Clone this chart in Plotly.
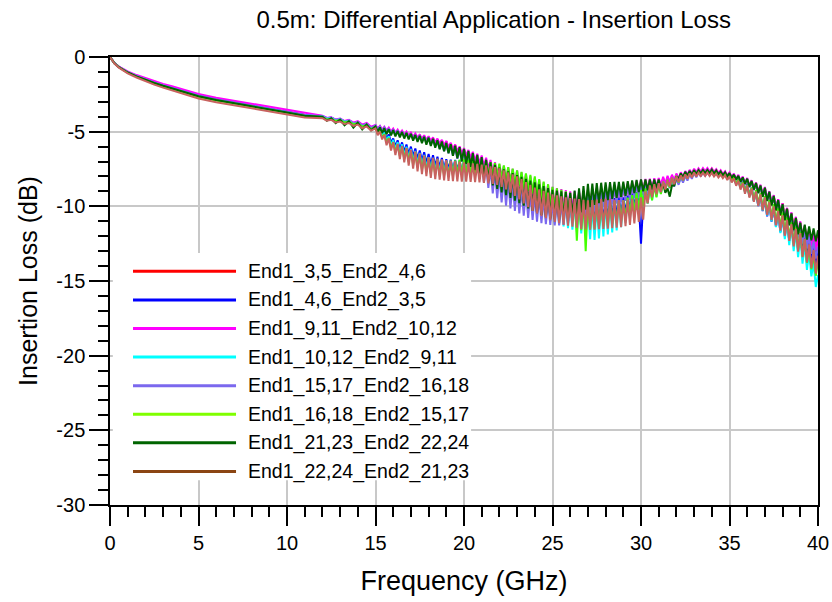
import plotly.graph_objects as go

# ---------------- data ----------------
FREQ_SMOOTH = [0, 0.1, 0.25, 0.5, 0.75, 1, 1.5, 2, 2.5, 3, 3.5, 4, 5, 6, 7, 8, 9, 10, 11]
FREQ_EARLY_PEAK = [12 + 0.5 * i for i in range(6)]        # 12.0 ... 14.5 GHz
FREQ_EARLY_TROUGH = [12.25 + 0.5 * i for i in range(6)]   # 12.25 ... 14.75 GHz
FREQ_PEAK = [15 + 0.25 * i for i in range(101)]           # 15.0 ... 40.0 GHz (ripple maxima)
FREQ_TROUGH = [15.125 + 0.25 * i for i in range(100)]     # 15.125 ... 39.875 GHz (ripple minima)

names = ["End1_3,5_End2_4,6", "End1_4,6_End2_3,5", "End1_9,11_End2_10,12",
         "End1_10,12_End2_9,11", "End1_15,17_End2_16,18", "End1_16,18_End2_15,17",
         "End1_21,23_End2_22,24", "End1_22,24_End2_21,23"]
line_colors = ["#FF0000", "#0000FF", "#FF00FF", "#00FFFF", "#7B68EE", "#44FF00", "#006400", "#C8625F"]
legend_colors = ["#FF0000", "#0000FF", "#FF00FF", "#00FFFF", "#7B68EE", "#7FFF00", "#006400", "#8B4513"]

x_tick_vals = [0, 5, 10, 15, 20, 25, 30, 35, 40]
x_tick_text = ["0", "5", "10", "15", "20", "25", "30", "35", "40"]
y_tick_vals = [0, -5, -10, -15, -20, -25, -30]
y_tick_text = ["0", "-5", "-10", "-15", "-20", "-25", "-30"]

# ---- smooth part 0..11 GHz ----
red_smooth = [0, -.2, -.41, -.66, -.86, -1.01, -1.26, -1.48, -1.69, -1.88, -2.05, -2.22, -2.58, -2.83, -3.03, -3.23, -3.45, -3.67, -3.87]
blue_smooth = [0, -.2, -.41, -.66, -.86, -1.01, -1.26, -1.49, -1.70, -1.89, -2.06, -2.23, -2.59, -2.84, -3.04, -3.24, -3.46, -3.68, -3.88]
magenta_smooth = [0, -.19, -.40, -.64, -.82, -.97, -1.21, -1.42, -1.62, -1.80, -1.96, -2.12, -2.47, -2.72, -2.92, -3.12, -3.34, -3.56, -3.77]
cyan_smooth = [0, -.2, -.42, -.67, -.87, -1.03, -1.28, -1.51, -1.72, -1.91, -2.08, -2.25, -2.61, -2.86, -3.06, -3.26, -3.48, -3.70, -3.90]
purple_smooth = [0, -.2, -.42, -.67, -.87, -1.02, -1.28, -1.51, -1.72, -1.90, -2.07, -2.24, -2.60, -2.85, -3.05, -3.25, -3.47, -3.69, -3.89]
lime_smooth = [0, -.2, -.42, -.69, -.89, -1.05, -1.31, -1.55, -1.76, -1.96, -2.13, -2.30, -2.66, -2.91, -3.11, -3.31, -3.53, -3.75, -3.95]
green_smooth = [0, -.2, -.42, -.68, -.88, -1.04, -1.30, -1.53, -1.74, -1.93, -2.10, -2.27, -2.63, -2.88, -3.08, -3.28, -3.50, -3.72, -3.93]
brown_smooth = [0, -.21, -.44, -.71, -.92, -1.09, -1.37, -1.62, -1.85, -2.05, -2.23, -2.41, -2.78, -3.03, -3.23, -3.43, -3.65, -3.87, -4.05]

# ---- light ripple 12..14.75 GHz (maxima / minima) ----
red_early_peaks = [-4.00, -4.10, -4.19, -4.28, -4.37, -4.49]
red_early_troughs = [-4.15, -4.26, -4.36, -4.47, -4.59, -4.73]
blue_early_peaks = [-3.95, -4.05, -4.14, -4.24, -4.34, -4.47]
blue_early_troughs = [-4.10, -4.21, -4.31, -4.43, -4.57, -4.72]
magenta_early_peaks = [-3.93, -4.03, -4.12, -4.21, -4.30, -4.42]
magenta_early_troughs = [-4.08, -4.19, -4.29, -4.40, -4.53, -4.67]
cyan_early_peaks = [-3.97, -4.07, -4.16, -4.26, -4.37, -4.50]
cyan_early_troughs = [-4.12, -4.23, -4.33, -4.46, -4.61, -4.79]
purple_early_peaks = [-4.00, -4.10, -4.19, -4.28, -4.37, -4.48]
purple_early_troughs = [-4.15, -4.26, -4.36, -4.47, -4.60, -4.75]
lime_early_peaks = [-4.03, -4.13, -4.22, -4.32, -4.42, -4.55]
lime_early_troughs = [-4.18, -4.29, -4.39, -4.51, -4.67, -4.83]
green_early_peaks = [-4.00, -4.10, -4.20, -4.30, -4.40, -4.52]
green_early_troughs = [-4.27, -4.43, -4.57, -4.73, -4.84, -4.91]
brown_early_peaks = [-4.10, -4.21, -4.32, -4.42, -4.52, -4.65]
brown_early_troughs = [-4.26, -4.38, -4.49, -4.61, -4.77, -4.93]

# ---- dense ripple 15..40 GHz: maxima (every 0.25 GHz) and minima (in between) ----
red_peaks = [-4.60, -4.66, -4.73, -4.80, -4.86, -4.93, -5.00, -5.07,
             -5.13, -5.19, -5.25, -5.30, -5.35, -5.43, -5.51, -5.58,
             -5.65, -5.78, -5.90, -6.05, -6.20, -6.38, -6.55, -6.72,
             -6.90, -7.05, -7.20, -7.35, -7.50, -7.62, -7.75, -7.88,
             -8.00, -8.12, -8.25, -8.38, -8.50, -8.65, -8.80, -8.95,
             -9.10, -9.15, -9.20, -9.25, -9.30, -9.20, -9.10, -9.00,
             -8.90, -8.85, -8.80, -8.75, -8.70, -8.70, -8.70, -8.70,
             -8.70, -8.61, -8.52, -8.43, -8.35, -8.31, -8.27, -8.23,
             -8.20, -8.12, -8.05, -7.97, -7.90, -7.81, -7.72, -7.62,
             -7.53, -7.52, -7.51, -7.50, -7.50, -7.57, -7.64, -7.71,
             -7.78, -7.88, -7.99, -8.10, -8.20, -8.35, -8.50, -8.65,
             -8.80, -9.05, -9.30, -9.55, -9.80, -10.12, -10.45, -10.78,
             -11.10, -11.32, -11.55, -11.78, -12.00]
red_troughs = [-4.84, -4.91, -4.98, -5.06, -5.13, -5.20, -5.27, -5.33,
               -5.40, -5.47, -5.54, -5.62, -5.71, -5.80, -5.89, -6.01,
               -6.15, -6.32, -6.51, -6.71, -6.92, -7.13, -7.36, -7.58,
               -7.79, -8.00, -8.19, -8.39, -8.58, -8.76, -8.93, -9.11,
               -9.28, -9.46, -9.63, -9.80, -9.97, -10.13, -10.28, -10.40,
               -10.50, -10.58, -10.63, -10.64, -10.61, -10.55, -10.45, -10.35,
               -10.25, -10.15, -10.05, -9.97, -9.90, -9.83, -9.77, -9.70,
               -9.63, -9.53, -9.42, -9.31, -9.20, -9.09, -8.98, -8.86,
               -8.74, -8.62, -8.49, -8.36, -8.23, -8.11, -7.98, -7.87,
               -7.78, -7.73, -7.72, -7.73, -7.76, -7.82, -7.90, -8.00,
               -8.11, -8.24, -8.39, -8.55, -8.72, -8.90, -9.10, -9.34,
               -9.61, -9.93, -10.28, -10.62, -10.95, -11.29, -11.62, -11.93,
               -12.22, -12.51, -12.78, -13.05]

blue_peaks = [-4.60, -4.76, -4.92, -5.18, -5.45, -5.58, -5.72, -5.86,
              -6.00, -6.13, -6.26, -6.38, -6.50, -6.58, -6.67, -6.76,
              -6.85, -6.88, -6.90, -6.93, -6.95, -6.96, -6.97, -6.98,
              -7.00, -7.10, -7.20, -7.30, -7.40, -7.55, -7.70, -7.85,
              -8.00, -8.15, -8.30, -8.45, -8.60, -8.75, -8.90, -9.05,
              -9.20, -9.28, -9.35, -9.42, -9.50, -9.55, -9.60, -9.65,
              -9.70, -9.65, -9.60, -9.55, -9.50, -9.47, -9.45, -9.42,
              -9.40, -9.28, -9.15, -9.05, -12.50, -8.80, -8.65, -8.52,
              -8.40, -8.32, -8.25, -8.18, -8.10, -8.00, -7.89, -7.78,
              -7.68, -7.66, -7.64, -7.62, -7.60, -7.67, -7.74, -7.81,
              -7.88, -8.04, -8.20, -8.35, -8.50, -8.75, -9.00, -9.25,
              -9.50, -9.80, -10.10, -10.40, -10.70, -10.98, -11.25, -11.52,
              -11.80, -12.05, -12.30, -12.55, -12.80]
blue_troughs = [-4.96, -5.19, -5.48, -5.74, -5.99, -6.19, -6.36, -6.52,
                -6.67, -6.83, -6.98, -7.12, -7.23, -7.33, -7.42, -7.49,
                -7.54, -7.59, -7.62, -7.64, -7.67, -7.70, -7.75, -7.83,
                -7.94, -8.10, -8.30, -8.50, -8.70, -8.90, -9.10, -9.30,
                -9.50, -9.70, -9.90, -10.09, -10.26, -10.43, -10.58, -10.71,
                -10.82, -10.92, -10.99, -11.05, -11.12, -11.18, -11.23, -11.24,
                -11.21, -11.15, -11.05, -10.96, -10.87, -10.79, -10.71, -10.61,
                -10.49, -10.30, -10.03, -9.85, -9.75, -9.58, -9.35, -9.14,
                -8.97, -8.82, -8.69, -8.56, -8.43, -8.29, -8.14, -8.02,
                -7.93, -7.87, -7.84, -7.84, -7.87, -7.92, -7.99, -8.11,
                -8.28, -8.48, -8.73, -9.00, -9.30, -9.63, -9.98, -10.32,
                -10.67, -11.02, -11.38, -11.72, -12.02, -12.32, -12.59, -12.85,
                -13.12, -13.38, -13.63, -13.85]

magenta_peaks = [-4.55, -4.61, -4.67, -4.73, -4.80, -4.86, -4.93, -5.00,
                 -5.06, -5.12, -5.18, -5.24, -5.30, -5.38, -5.46, -5.54,
                 -5.62, -5.74, -5.86, -5.98, -6.10, -6.22, -6.35, -6.48,
                 -6.60, -6.75, -6.90, -7.05, -7.20, -7.30, -7.40, -7.50,
                 -7.60, -7.72, -7.85, -7.98, -8.10, -8.25, -8.40, -8.55,
                 -8.70, -8.78, -8.85, -8.92, -9.00, -9.00, -9.00, -9.00,
                 -9.00, -8.93, -8.87, -8.81, -8.75, -8.69, -8.63, -8.56,
                 -8.50, -8.42, -8.35, -8.28, -8.20, -8.17, -8.15, -8.12,
                 -8.10, -8.02, -7.95, -7.88, -7.80, -7.72, -7.64, -7.56,
                 -7.48, -7.46, -7.44, -7.44, -7.45, -7.52, -7.59, -7.66,
                 -7.73, -7.81, -7.89, -8.00, -8.10, -8.25, -8.40, -8.55,
                 -8.70, -8.98, -9.25, -9.52, -9.80, -10.10, -10.40, -10.70,
                 -11.00, -11.28, -11.55, -11.82, -12.10]
magenta_troughs = [-4.78, -4.86, -4.92, -5.00, -5.07, -5.13, -5.20, -5.27,
                   -5.34, -5.41, -5.48, -5.56, -5.65, -5.74, -5.83, -5.94,
                   -6.05, -6.17, -6.31, -6.45, -6.60, -6.76, -6.93, -7.12,
                   -7.31, -7.50, -7.69, -7.88, -8.05, -8.22, -8.37, -8.53,
                   -8.69, -8.86, -9.03, -9.20, -9.37, -9.53, -9.68, -9.81,
                   -9.92, -10.02, -10.09, -10.14, -10.18, -10.20, -10.20, -10.18,
                   -10.13, -10.07, -9.98, -9.89, -9.80, -9.71, -9.63, -9.54,
                   -9.43, -9.31, -9.18, -9.07, -8.97, -8.88, -8.81, -8.72,
                   -8.62, -8.51, -8.38, -8.26, -8.14, -8.02, -7.90, -7.80,
                   -7.73, -7.68, -7.66, -7.67, -7.70, -7.76, -7.85, -7.94,
                   -8.04, -8.16, -8.29, -8.45, -8.62, -8.80, -8.99, -9.22,
                   -9.49, -9.78, -10.11, -10.44, -10.77, -11.12, -11.47, -11.81,
                   -12.12, -12.42, -12.69, -12.95]

cyan_peaks = [-4.63, -4.84, -5.05, -5.30, -5.55, -5.70, -5.85, -6.00,
              -6.15, -6.29, -6.43, -6.56, -6.70, -6.76, -6.83, -6.89,
              -6.95, -6.95, -6.95, -6.95, -6.95, -6.96, -6.97, -6.98,
              -7.00, -7.12, -7.25, -7.38, -7.50, -7.65, -7.80, -7.95,
              -8.10, -8.28, -8.45, -8.62, -8.80, -8.92, -9.05, -9.18,
              -9.30, -9.40, -9.50, -9.60, -9.70, -9.78, -9.85, -9.92,
              -10.00, -9.95, -9.90, -9.85, -9.80, -9.75, -9.70, -9.65,
              -9.60, -9.45, -9.30, -9.15, -9.00, -8.85, -8.70, -8.55,
              -8.40, -8.32, -8.23, -8.14, -8.05, -7.96, -7.87, -7.78,
              -7.68, -7.68, -7.67, -7.66, -7.65, -7.70, -7.76, -7.80,
              -7.85, -8.04, -8.23, -8.42, -8.60, -8.80, -9.00, -9.20,
              -9.40, -9.70, -10.00, -10.30, -10.60, -10.95, -11.30, -11.65,
              -12.00, -12.50, -13.10, -13.80, -14.60]
cyan_troughs = [-5.07, -5.32, -5.64, -5.94, -6.21, -6.45, -6.66, -6.85,
                -7.02, -7.19, -7.36, -7.50, -7.61, -7.70, -7.76, -7.81,
                -7.84, -7.85, -7.85, -7.86, -7.87, -7.90, -7.95, -8.02,
                -8.12, -8.26, -8.44, -8.62, -8.81, -9.00, -9.20, -9.40,
                -9.61, -9.84, -10.07, -10.28, -10.47, -10.66, -10.84, -11.00,
                -11.13, -11.25, -11.35, -11.46, -11.57, -11.69, -11.82, -11.98,
                -12.20, -12.25, -12.15, -12.02, -11.88, -11.74, -11.61, -11.40,
                -11.10, -10.82, -10.58, -10.32, -10.08, -9.82, -9.58, -9.35,
                -9.14, -8.96, -8.78, -8.62, -8.48, -8.32, -8.15, -8.03,
                -7.95, -7.90, -7.87, -7.88, -7.91, -7.97, -8.04, -8.16,
                -8.32, -8.54, -8.80, -9.08, -9.36, -9.65, -9.95, -10.28,
                -10.62, -11.00, -11.40, -11.80, -12.20, -12.60, -13.00, -13.41,
                -13.84, -14.26, -14.69, -15.40]

purple_peaks = [-4.58, -4.65, -4.72, -4.78, -4.85, -4.92, -5.00, -5.08,
                -5.15, -5.21, -5.27, -5.33, -5.40, -5.52, -5.63, -5.74,
                -5.85, -5.96, -6.08, -6.19, -6.30, -6.48, -6.65, -6.82,
                -7.00, -7.22, -7.45, -7.68, -7.90, -8.08, -8.25, -8.42,
                -8.60, -8.75, -8.90, -9.05, -9.20, -9.32, -9.45, -9.58,
                -9.70, -9.68, -9.65, -9.62, -9.60, -9.48, -9.35, -9.22,
                -9.10, -9.02, -8.95, -8.88, -8.80, -8.78, -8.75, -8.72,
                -8.70, -8.65, -8.60, -8.55, -8.50, -8.48, -8.45, -8.42,
                -8.40, -8.34, -8.27, -8.21, -8.15, -8.05, -7.95, -7.85,
                -7.75, -7.74, -7.73, -7.72, -7.70, -7.74, -7.77, -7.80,
                -7.83, -7.92, -8.02, -8.11, -8.20, -8.36, -8.53, -8.69,
                -8.85, -9.11, -9.37, -9.63, -9.90, -10.25, -10.60, -10.95,
                -11.30, -11.65, -12.00, -12.35, -12.70]
purple_troughs = [-4.86, -4.94, -5.02, -5.10, -5.19, -5.27, -5.34, -5.41,
                  -5.50, -5.58, -5.67, -5.76, -5.88, -6.00, -6.15, -6.30,
                  -6.45, -6.62, -6.82, -7.02, -7.26, -7.51, -7.79, -8.09,
                  -8.42, -8.76, -9.14, -9.46, -9.74, -9.96, -10.14, -10.30,
                  -10.47, -10.62, -10.78, -10.91, -11.02, -11.12, -11.19, -11.24,
                  -11.27, -11.27, -11.24, -11.17, -11.08, -10.94, -10.76, -10.60,
                  -10.45, -10.32, -10.18, -10.07, -9.98, -9.89, -9.81, -9.73,
                  -9.64, -9.55, -9.45, -9.36, -9.27, -9.19, -9.11, -9.03,
                  -8.95, -8.87, -8.78, -8.68, -8.56, -8.42, -8.28, -8.16,
                  -8.06, -8.00, -7.95, -7.93, -7.94, -7.96, -8.01, -8.07,
                  -8.16, -8.27, -8.41, -8.56, -8.74, -8.92, -9.14, -9.37,
                  -9.64, -9.92, -10.23, -10.56, -10.92, -11.30, -11.70, -12.09,
                  -12.46, -12.82, -13.18, -13.50]

lime_peaks = [-4.68, -4.92, -5.15, -5.42, -5.70, -5.84, -5.97, -6.11,
              -6.25, -6.38, -6.52, -6.66, -6.80, -6.85, -6.90, -6.95,
              -7.00, -6.96, -6.92, -6.88, -6.85, -6.88, -6.90, -6.92,
              -6.95, -7.00, -7.05, -7.10, -7.15, -7.26, -7.37, -7.48,
              -7.60, -7.70, -7.80, -7.90, -8.00, -8.18, -8.35, -8.52,
              -8.70, -8.80, -8.90, -9.00, -9.10, -9.22, -9.35, -9.48,
              -9.60, -9.62, -9.65, -9.68, -9.70, -9.68, -9.65, -9.62,
              -9.60, -9.42, -9.25, -9.08, -8.90, -8.80, -8.70, -8.60,
              -8.50, -8.36, -8.23, -8.09, -7.95, -7.88, -7.82, -7.75,
              -7.68, -7.68, -7.67, -7.66, -7.65, -7.70, -7.76, -7.80,
              -7.85, -8.02, -8.20, -8.38, -8.55, -8.74, -8.92, -9.11,
              -9.30, -9.58, -9.85, -10.12, -10.40, -10.72, -11.05, -11.38,
              -11.70, -12.20, -12.70, -13.20, -13.70]
lime_troughs = [-5.12, -5.39, -5.75, -6.08, -6.37, -6.62, -6.84, -7.03,
                -7.22, -7.39, -7.56, -7.69, -7.80, -7.88, -7.92, -7.95,
                -7.96, -7.94, -7.90, -7.87, -7.86, -7.85, -7.85, -7.86,
                -7.89, -7.92, -7.98, -8.05, -8.14, -8.25, -8.40, -8.54,
                -8.67, -8.82, -8.98, -9.15, -9.33, -9.53, -9.76, -9.98,
                -10.20, -10.40, -10.60, -10.80, -10.95, -12.30, -11.60, -13.00,
                -11.55, -11.49, -11.41, -11.34, -11.27, -11.19, -11.11, -11.00,
                -10.85, -10.66, -10.44, -10.22, -10.00, -9.80, -9.60, -9.40,
                -9.18, -8.98, -8.76, -8.58, -8.40, -8.25, -8.12, -8.02,
                -7.94, -7.90, -7.87, -7.88, -7.91, -7.97, -8.04, -8.16,
                -8.30, -8.50, -8.76, -9.02, -9.31, -9.59, -9.86, -10.16,
                -10.46, -10.78, -11.12, -11.45, -11.80, -12.16, -12.54, -12.94,
                -13.35, -13.78, -14.22, -14.65]

green_peaks = [-4.65, -4.71, -4.77, -4.84, -4.90, -4.96, -5.02, -5.08,
               -5.15, -5.22, -5.28, -5.34, -5.40, -5.48, -5.57, -5.66,
               -5.75, -5.84, -5.94, -6.04, -6.15, -6.29, -6.43, -6.56,
               -6.70, -6.88, -7.05, -7.22, -7.40, -7.52, -7.65, -7.78,
               -7.90, -8.02, -8.15, -8.28, -8.40, -8.52, -8.65, -8.78,
               -8.90, -8.95, -9.00, -9.05, -9.10, -8.95, -8.80, -8.65,
               -8.50, -8.48, -8.45, -8.42, -8.40, -8.38, -8.37, -8.36,
               -8.35, -8.31, -8.27, -8.23, -8.20, -8.20, -8.20, -8.20,
               -8.20, -8.45, -8.80, -8.60, -8.00, -7.80, -7.69, -7.63,
               -7.58, -7.58, -7.57, -7.56, -7.55, -7.61, -7.67, -7.72,
               -7.78, -7.87, -7.96, -8.06, -8.15, -8.30, -8.44, -8.60,
               -8.75, -9.02, -9.30, -9.58, -9.85, -10.16, -10.47, -10.78,
               -11.10, -11.22, -11.35, -11.48, -11.60]
green_troughs = [-5.01, -5.08, -5.17, -5.25, -5.32, -5.39, -5.46, -5.52,
                 -5.60, -5.68, -5.77, -5.87, -5.96, -6.07, -6.18, -6.31,
                 -6.45, -6.61, -6.79, -6.98, -7.16, -7.36, -7.58, -7.80,
                 -8.05, -8.31, -8.59, -8.84, -9.06, -9.26, -9.44, -9.62,
                 -9.78, -9.96, -10.14, -10.30, -10.45, -10.58, -10.72, -10.81,
                 -10.87, -10.90, -10.90, -10.85, -10.75, -10.60, -10.40, -10.22,
                 -10.05, -9.91, -9.79, -9.68, -9.59, -9.50, -9.44, -9.36,
                 -9.30, -9.22, -9.12, -9.05, -8.99, -8.93, -8.87, -8.80,
                 -8.85, -9.10, -9.35, -8.60, -8.15, -8.05, -7.96, -7.89,
                 -7.83, -7.79, -7.77, -7.78, -7.80, -7.86, -7.92, -8.00,
                 -8.10, -8.21, -8.35, -8.50, -8.68, -8.88, -9.10, -9.36,
                 -9.64, -9.94, -10.26, -10.58, -10.92, -11.25, -11.60, -11.87,
                 -12.08, -12.22, -12.28, -12.35]

brown_peaks = [-4.78, -4.99, -5.20, -5.45, -5.70, -5.82, -5.95, -6.08,
               -6.20, -6.32, -6.45, -6.58, -6.70, -6.75, -6.80, -6.85,
               -6.90, -6.94, -6.97, -7.01, -7.05, -7.09, -7.13, -7.16,
               -7.20, -7.26, -7.32, -7.38, -7.45, -7.59, -7.73, -7.86,
               -8.00, -8.18, -8.37, -8.56, -8.75, -8.86, -8.97, -9.08,
               -9.20, -9.26, -9.33, -9.39, -9.45, -9.48, -9.52, -9.56,
               -9.60, -9.58, -9.55, -9.52, -9.50, -9.52, -9.55, -9.58,
               -9.60, -9.55, -9.50, -9.45, -9.40, -9.00, -8.60, -8.52,
               -8.45, -8.34, -8.22, -8.11, -8.00, -7.93, -7.86, -7.80,
               -7.73, -7.74, -7.74, -7.74, -7.75, -7.81, -7.87, -7.92,
               -7.98, -8.13, -8.28, -8.44, -8.60, -8.80, -9.00, -9.20,
               -9.40, -9.70, -10.00, -10.30, -10.60, -10.90, -11.20, -11.50,
               -11.80, -12.18, -12.55, -12.92, -13.30]
brown_troughs = [-5.23, -5.52, -5.91, -6.26, -6.57, -6.84, -7.06, -7.27,
                 -7.47, -7.66, -7.84, -7.98, -8.10, -8.18, -8.22, -8.27,
                 -8.30, -8.32, -8.33, -8.34, -8.35, -8.37, -8.38, -8.40,
                 -8.43, -8.46, -8.49, -8.57, -8.70, -8.86, -9.08, -9.30,
                 -9.54, -9.80, -10.06, -10.30, -10.48, -10.65, -10.80, -10.92,
                 -11.04, -11.13, -11.22, -11.30, -11.37, -11.44, -11.51, -11.55,
                 -11.57, -11.56, -11.53, -11.51, -11.49, -11.46, -11.43, -11.39,
                 -11.33, -11.25, -11.15, -11.05, -10.90, -9.80, -9.40, -9.20,
                 -9.05, -8.88, -8.68, -8.52, -8.37, -8.24, -8.14, -8.05,
                 -8.00, -7.96, -7.96, -7.97, -8.00, -8.06, -8.12, -8.24,
                 -8.40, -8.62, -8.88, -9.16, -9.42, -9.70, -9.97, -10.27,
                 -10.58, -10.92, -11.28, -11.63, -11.97, -12.32, -12.68, -13.04,
                 -13.40, -13.76, -14.14, -14.50]

series = [
    (red_smooth, red_early_peaks, red_early_troughs, red_peaks, red_troughs),
    (blue_smooth, blue_early_peaks, blue_early_troughs, blue_peaks, blue_troughs),
    (magenta_smooth, magenta_early_peaks, magenta_early_troughs, magenta_peaks, magenta_troughs),
    (cyan_smooth, cyan_early_peaks, cyan_early_troughs, cyan_peaks, cyan_troughs),
    (purple_smooth, purple_early_peaks, purple_early_troughs, purple_peaks, purple_troughs),
    (lime_smooth, lime_early_peaks, lime_early_troughs, lime_peaks, lime_troughs),
    (green_smooth, green_early_peaks, green_early_troughs, green_peaks, green_troughs),
    (brown_smooth, brown_early_peaks, brown_early_troughs, brown_peaks, brown_troughs),
]


def interleave(fp, fpv, ft, ftv):
    xs, ys = [], []
    for i, v in enumerate(fpv):
        xs.append(fp[i]); ys.append(v)
        if i < len(ftv):
            xs.append(ft[i]); ys.append(ftv[i])
    return xs, ys


def assemble(smooth, ep, et, lp, lt):
    xs, ys = list(FREQ_SMOOTH), list(smooth)
    a, b = interleave(FREQ_EARLY_PEAK, ep, FREQ_EARLY_TROUGH, et)
    xs += a; ys += b
    a, b = interleave(FREQ_PEAK, lp, FREQ_TROUGH, lt)
    xs += a; ys += b
    return xs, ys


FONT = "Arial, Liberation Sans, sans-serif"
fig = go.Figure()
for data, nm, col in zip(series, names, line_colors):
    xs, ys = assemble(*data)
    fig.add_trace(go.Scatter(x=xs, y=ys, mode="lines", name=nm, showlegend=False,
                             line=dict(color=col, width=2)))

# ---------------- hand-drawn legend (long line samples, as in the reference) ----------------
shapes = [dict(type="rect", xref="paper", yref="paper", x0=0.004, x1=0.51, y0=0.055, y1=0.5625,
               fillcolor="white", line=dict(width=0), layer="above")]
annotations = []
leg_top, leg_step = 0.5216, 0.0638
for i, (nm, col) in enumerate(zip(names, legend_colors)):
    yy = leg_top - i * leg_step
    shapes.append(dict(type="line", xref="paper", yref="paper", x0=0.0325, x1=0.178, y0=yy, y1=yy,
                       line=dict(color=col, width=3), layer="above"))
    annotations.append(dict(xref="paper", yref="paper", x=0.192, y=yy, xanchor="left", yanchor="middle",
                            text=nm, showarrow=False, font=dict(family=FONT, size=19.5, color="black")))

axis_common = dict(showgrid=True, gridcolor="#C8C8C8", gridwidth=2, zeroline=False,
                   showline=True, linecolor="black", linewidth=1.5, mirror=True,
                   ticks="outside", ticklen=19, tickwidth=1.5, tickcolor="black",
                   tickfont=dict(family=FONT, size=20, color="black"), tickmode="array",
                   automargin=False)

fig.update_layout(
    width=832, height=602,
    margin=dict(l=110, r=14, t=57, b=97),
    paper_bgcolor="white", plot_bgcolor="white",
    font=dict(family=FONT, color="black"),
    title=dict(text="0.5m: Differential Application - Insertion Loss", x=0.542, xref="paper",
               y=1 - 20 / 602, yref="container", yanchor="middle", xanchor="center",
               font=dict(family=FONT, size=24, color="black")),
    xaxis=dict(range=[0, 40], tickvals=x_tick_vals, ticktext=x_tick_text,
               minor=dict(tickmode="linear", tick0=0, dtick=1, ticks="outside", ticklen=10,
                          tickwidth=1.5, tickcolor="black", showgrid=False),
               title=dict(text="Frequency (GHz)", font=dict(family=FONT, size=27, color="black"), standoff=18),
               **axis_common),
    yaxis=dict(range=[-30, 0], tickvals=y_tick_vals, ticktext=y_tick_text,
               minor=dict(tickmode="linear", tick0=0, dtick=1, ticks="outside", ticklen=10,
                          tickwidth=1.5, tickcolor="black", showgrid=False),
               title=dict(text="Insertion Loss (dB)", font=dict(family=FONT, size=25, color="black"), standoff=12),
               **axis_common),
    shapes=shapes,
    annotations=annotations,
)

fig.write_html("out.html")
